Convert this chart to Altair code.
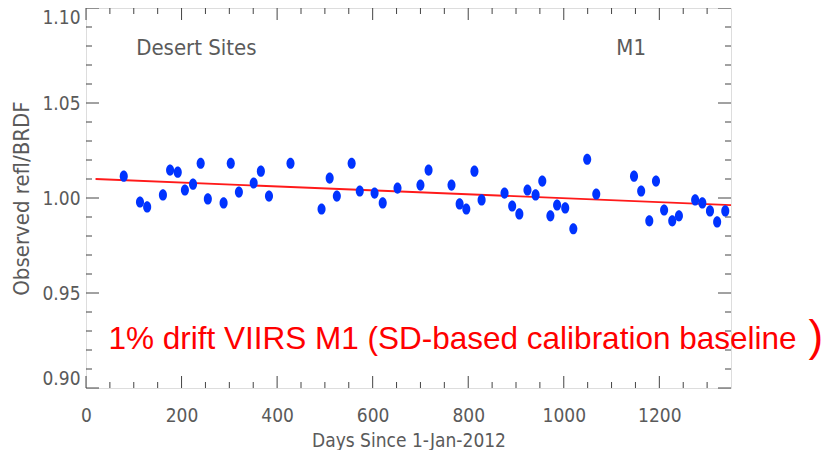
import altair as alt
import pandas as pd

# ---- data ----
days = [79, 113, 128, 161, 176, 192, 207, 224, 240, 255, 288, 303, 320, 351, 366, 383,
        428, 493, 510, 525, 556, 573, 604, 621, 652, 700, 717, 765, 782, 796, 813, 828,
        876, 892, 907, 924, 941, 955, 972, 986, 1003, 1020, 1049, 1068, 1147, 1162,
        1179, 1193, 1210, 1227, 1241, 1275, 1290, 1306, 1321, 1338]
ratio = [1.0115, 0.9979, 0.9953, 1.0016, 1.0147, 1.0136, 1.0042, 1.0073, 1.0183, 0.9995,
         0.9974, 1.0183, 1.0031, 1.0079, 1.0141, 1.0010, 1.0183, 0.9942, 1.0105, 1.0010,
         1.0183, 1.0037, 1.0026, 0.9974, 1.0052, 1.0068, 1.0147, 1.0068, 0.9969, 0.9942,
         1.0141, 0.9990, 1.0026, 0.9958, 0.9916, 1.0042, 1.0016, 1.0089, 0.9906, 0.9963,
         0.9948, 0.9838, 1.0204, 1.0021, 1.0115, 1.0037, 0.9880, 1.0089, 0.9937, 0.9880,
         0.9906, 0.9990, 0.9974, 0.9932, 0.9874, 0.9932]
fit_days = [20, 1350]
fit_ratio = [1.0100, 0.9963]

x_major = [0, 200, 400, 600, 800, 1000, 1200]
x_minor = [50, 100, 150, 250, 300, 350, 450, 500, 550, 650, 700, 750, 850, 900, 950,
           1050, 1100, 1150, 1250, 1300]
y_major = [0.90, 0.95, 1.00, 1.05, 1.10]
y_minor = [0.91, 0.92, 0.93, 0.94, 0.96, 0.97, 0.98, 0.99, 1.01, 1.02, 1.03, 1.04,
           1.06, 1.07, 1.08, 1.09]

W, H = 645, 380
GRAY = "#5a5a5a"
AX = "#444444"
FONT = "Liberation Sans Narrow, DejaVu Sans Condensed, Roboto, sans-serif"

pts = pd.DataFrame({"day": days, "ratio": ratio})
fit = pd.DataFrame({"day": fit_days, "ratio": fit_ratio})

xs = alt.Scale(domain=[0, 1350], nice=False, zero=False)
ys = alt.Scale(domain=[0.90, 1.10], nice=False, zero=False)

xaxis = alt.Axis(values=x_major, format="d", ticks=False, domain=False, grid=False,
                 labelPadding=18, labelFontSize=19, labelColor=GRAY, labelFont=FONT,
                 labelFlush=False,
                 title="Days Since 1-Jan-2012", titleFontSize=19, titleColor=GRAY,
                 titleFont=FONT, titleFontWeight="normal", titlePadding=6)
yaxis = alt.Axis(values=y_major, format=".2f", ticks=False, domain=False, grid=False,
                 labelPadding=6, labelFontSize=19, labelColor=GRAY, labelFont=FONT,
                 labelFlush=True,
                 title="Observed refl/BRDF", titleFontSize=22, titleColor=GRAY,
                 titleFont=FONT, titleFontWeight="normal", titlePadding=8)

ellipse = "M -0.72 0 A 0.72 1 0 1 0 0.72 0 A 0.72 1 0 1 0 -0.72 0 Z"

points = alt.Chart(pts).mark_point(shape=ellipse, filled=True, size=125, opacity=1,
                                   color="#0033ff").encode(
    x=alt.X("day:Q", scale=xs, axis=xaxis),
    y=alt.Y("ratio:Q", scale=ys, axis=yaxis),
)

line = alt.Chart(fit).mark_line(color="#ff1a1a", strokeWidth=1.8).encode(
    x=alt.X("day:Q", scale=xs), y=alt.Y("ratio:Q", scale=ys))

def xticks(vals, ln):
    d = pd.DataFrame({"t": vals})
    b = alt.Chart(d).mark_rule(color=AX, strokeWidth=1).encode(
        x=alt.X("t:Q", scale=xs), y=alt.value(H), y2=alt.value(H - ln))
    t = alt.Chart(d).mark_rule(color=AX, strokeWidth=1).encode(
        x=alt.X("t:Q", scale=xs), y=alt.value(0), y2=alt.value(ln))
    return [b, t]

def yticks(vals, ln):
    d = pd.DataFrame({"t": vals})
    l = alt.Chart(d).mark_rule(color=AX, strokeWidth=1).encode(
        y=alt.Y("t:Q", scale=ys), x=alt.value(0), x2=alt.value(ln))
    r = alt.Chart(d).mark_rule(color=AX, strokeWidth=1).encode(
        y=alt.Y("t:Q", scale=ys), x=alt.value(W), x2=alt.value(W - ln))
    return [l, r]

ticks = xticks(x_major, 12) + xticks(x_minor, 6) + yticks(y_major, 13) + yticks(y_minor, 6)

labels = pd.DataFrame({"day": [105, 1110], "ratio": [1.079, 1.079],
                       "txt": ["Desert Sites", "M1"]})
lab = alt.Chart(labels).mark_text(align="left", baseline="middle", fontSize=22,
                                  font=FONT, color=GRAY).encode(
    x=alt.X("day:Q", scale=xs), y=alt.Y("ratio:Q", scale=ys), text="txt:N")

note = pd.DataFrame({"day": [47], "ratio": [0.9255],
                     "txt": ["1% drift VIIRS M1 (SD-based calibration baseline"]})
nt = alt.Chart(note).mark_text(align="left", baseline="middle", fontSize=31.5,
                               font="Liberation Sans, Arial, sans-serif",
                               color="#ff0000").encode(
    x=alt.X("day:Q", scale=xs), y=alt.Y("ratio:Q", scale=ys), text="txt:N")

paren = pd.DataFrame({"day": [1512], "ratio": [0.9262], "txt": [")"]})
pt = alt.Chart(paren).mark_text(align="left", baseline="middle", fontSize=44,
                                font="Liberation Sans, Arial, sans-serif",
                                color="#ff0000").encode(
    x=alt.X("day:Q", scale=xs), y=alt.Y("ratio:Q", scale=ys), text="txt:N")

chart = alt.layer(*ticks, line, points, lab, nt, pt).properties(
    width=W, height=H,
    autosize=alt.AutoSizeParams(type="none"),
    padding={"left": 78, "top": 0, "right": 95, "bottom": 62},
).configure_view(stroke=AX, strokeWidth=1.5).configure(background="white")

chart.save("out.html", embed_options={"renderer": "svg", "actions": False})
